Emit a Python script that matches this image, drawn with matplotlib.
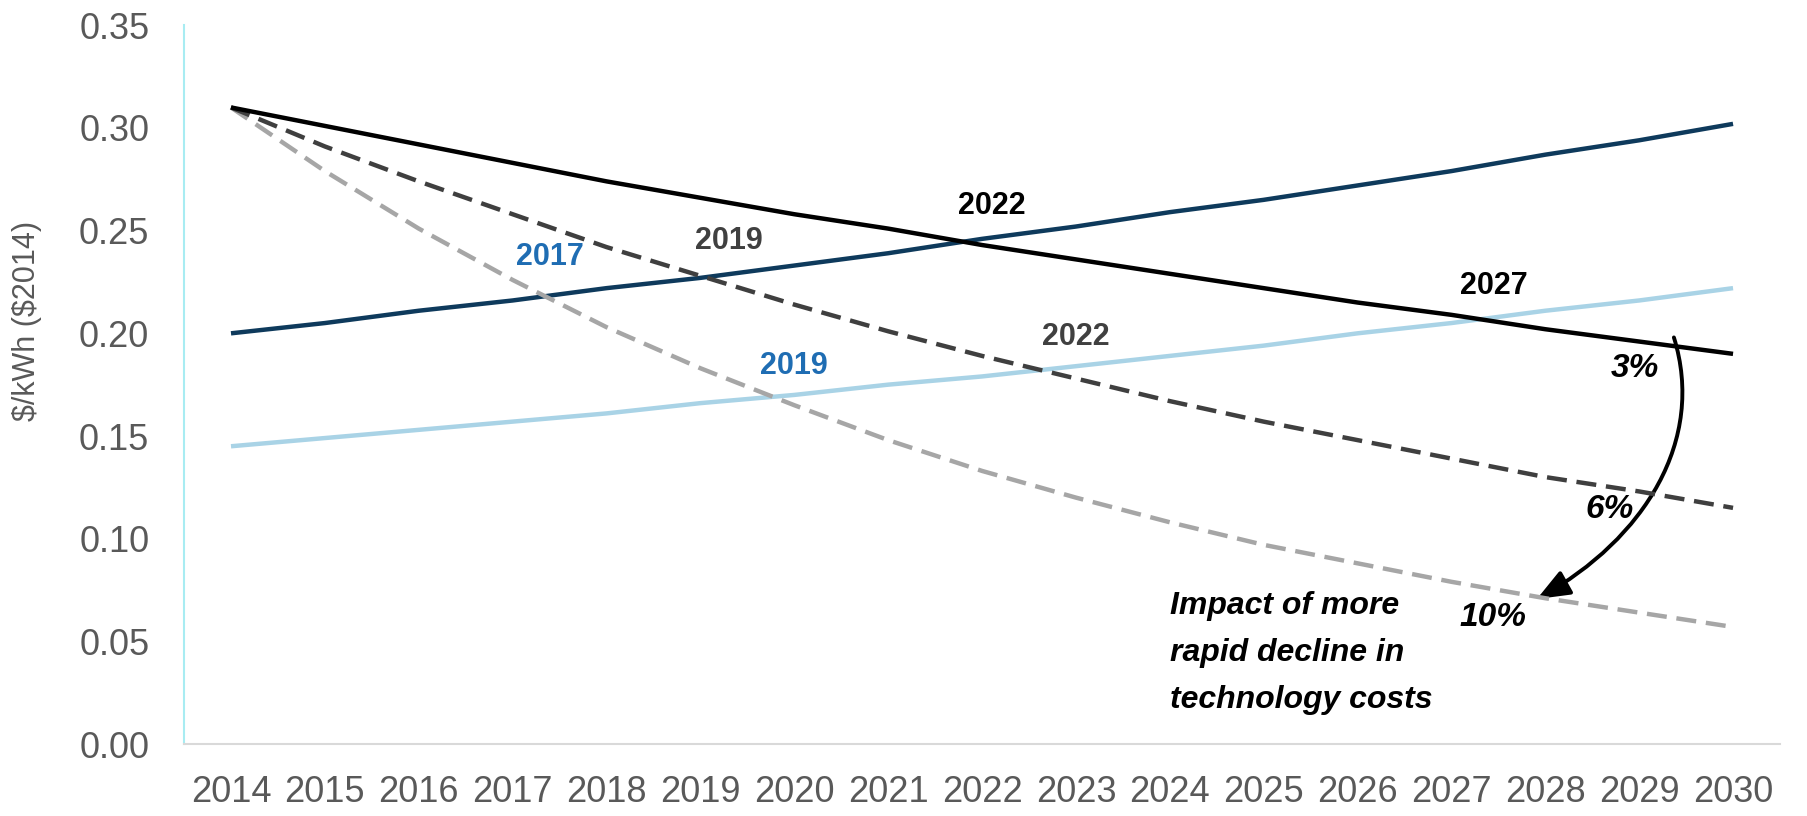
import matplotlib
matplotlib.use("Agg")
import matplotlib.pyplot as plt
from matplotlib.patches import FancyArrowPatch
from matplotlib.path import Path

plt.rcParams["font.family"] = ["Liberation Sans", "DejaVu Sans"]

years = list(range(2014, 2031))

# $/kWh ($2014)
decline_3 = [0.310, 0.301, 0.292, 0.283, 0.274, 0.266, 0.258, 0.251, 0.243,
             0.236, 0.229, 0.222, 0.215, 0.209, 0.202, 0.196, 0.190]
decline_6 = [0.310, 0.291, 0.274, 0.258, 0.242, 0.228, 0.214, 0.201, 0.189,
             0.178, 0.167, 0.157, 0.148, 0.139, 0.130, 0.123, 0.115]
decline_10 = [0.310, 0.279, 0.251, 0.226, 0.203, 0.183, 0.165, 0.148, 0.133,
              0.120, 0.108, 0.097, 0.088, 0.079, 0.071, 0.064, 0.057]
retail_high = [0.200, 0.205, 0.211, 0.216, 0.222, 0.227, 0.233, 0.239, 0.246,
               0.252, 0.259, 0.265, 0.272, 0.279, 0.287, 0.294, 0.302]
retail_low = [0.145, 0.149, 0.153, 0.157, 0.161, 0.166, 0.170, 0.175, 0.179,
              0.184, 0.189, 0.194, 0.200, 0.205, 0.211, 0.216, 0.222]

# crossover labels: text, x, y, colour
crossings = [("2022", 2022.1, 0.262, "black"),
             ("2019", 2019.3, 0.245, "#404040"),
             ("2017", 2017.4, 0.237, "#1f6db3"),
             ("2019", 2020.0, 0.184, "#1f6db3"),
             ("2022", 2023.0, 0.198, "#404040"),
             ("2027", 2027.45, 0.223, "black")]
rates = [("3%", 2028.95, 0.183), ("6%", 2028.68, 0.114), ("10%", 2027.44, 0.0618)]

fig = plt.figure(figsize=(18.08, 8.16), dpi=100)
ax = fig.add_axes([0.1018, 0.0882, 0.8827, 0.8808])

ax.plot(years, retail_low, color="#a9d3e6", lw=3.2, solid_capstyle="butt")
ax.plot(years, retail_high, color="#0e3a5c", lw=3.2, solid_capstyle="butt")
ax.plot(years, decline_10, color="#a6a6a6", lw=3.2, dashes=(4.5, 2.2))
ax.plot(years, decline_6, color="#3f3f3f", lw=3.2, dashes=(4.5, 2.2))
ax.plot(years, decline_3, color="black", lw=3.2, solid_capstyle="butt")

for txt, x, y, c in crossings:
    ax.text(x, y, txt, color=c, fontsize=22, fontweight="bold", ha="center", va="center")
for txt, x, y in rates:
    ax.text(x, y, txt, color="black", fontsize=24, fontweight="bold", style="italic",
            ha="center", va="center")

ax.text(2024.0, 0.0443, "Impact of more\nrapid decline in\ntechnology costs",
        fontsize=23, fontweight="bold", style="italic", ha="left", va="center",
        linespacing=1.75)

# curved arrow sweeping from the 3% line down to the 10% line
sweep = Path([(2029.37, 0.198), (2029.71, 0.148), (2029.06, 0.100), (2027.91, 0.0706)],
             [Path.MOVETO, Path.CURVE4, Path.CURVE4, Path.CURVE4])
arrow = FancyArrowPatch(path=sweep, arrowstyle="-|>,head_length=20,head_width=8",
                        color="black", lw=2.8, mutation_scale=1, transform=ax.transData)
ax.add_patch(arrow)

ax.set_xlim(2013.5, 2030.5)
ax.set_ylim(0, 0.35)
ax.set_xticks(years)
ax.set_yticks([0, 0.05, 0.10, 0.15, 0.20, 0.25, 0.30, 0.35])
ax.set_yticklabels([f"{v:.2f}" for v in ax.get_yticks()])
ax.tick_params(length=0, labelsize=26, labelcolor="#595959")
ax.tick_params(axis="y", pad=25)
ax.tick_params(axis="x", pad=22)

for s in ["top", "right"]:
    ax.spines[s].set_visible(False)
ax.spines["left"].set_color("#a8ecf2")
ax.spines["left"].set_linewidth(1.5)
ax.spines["bottom"].set_color("#d9d9d9")
ax.spines["bottom"].set_linewidth(1.5)

ax.set_ylabel(r"\$/kWh (\$2014)", fontsize=22, color="#595959")
ax.yaxis.set_label_coords(-0.089, 0.588)

fig.savefig("out.png", dpi=100)
